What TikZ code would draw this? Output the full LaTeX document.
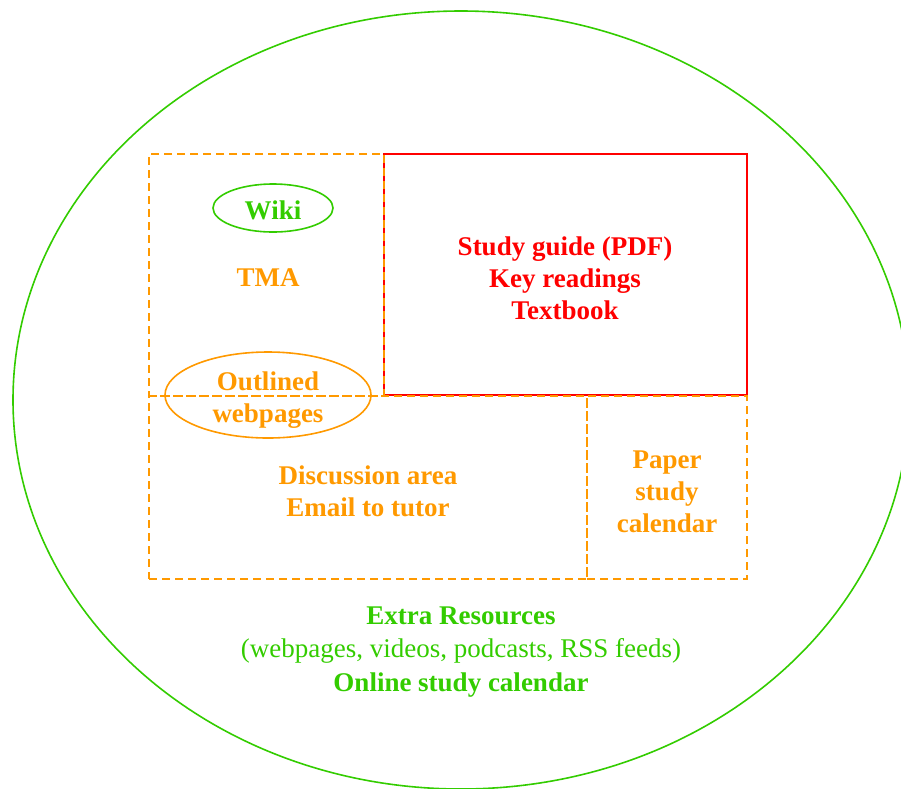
\documentclass[tikz,border=0pt]{standalone}
\usepackage{fontspec}
\setmainfont{Liberation Serif}
\usetikzlibrary{shapes.geometric}
\definecolor{mygreen}{RGB}{51,204,0}
\definecolor{myorange}{RGB}{255,153,0}
\definecolor{myred}{RGB}{255,0,0}
\newcommand{\lblsize}{\fontsize{27}{32}\selectfont}

\begin{document}
\begin{tikzpicture}[x=1pt, y=-1pt,
	dbox/.style={draw=myorange, line width=1.6pt, dash pattern=on 8pt off 5pt, inner sep=0pt},
	rbox/.style={draw=myred, line width=1.6pt, inner sep=0pt},
	lbl/.style={align=center, font=\lblsize\bfseries, inner sep=0pt},
	oval/.style={ellipse, line width=1.6pt, inner sep=0pt}]
	\useasboundingbox (0,0) rectangle (901,788);
	\node[oval, draw=mygreen, minimum width=896pt, minimum height=778pt] (outer) at (461,400) {};

	\node[rbox, minimum width=363pt, minimum height=241pt] (guide) at (565.5,274.5) {};
	\node[dbox, minimum width=235pt, minimum height=242pt] (tma) at (266.5,275) {};
	\node[dbox, minimum width=438pt, minimum height=183pt] (disc) at (368,487.5) {};
	\node[dbox, minimum width=160pt, minimum height=183pt] (paper) at (667,487.5) {};

	\node[oval, draw=mygreen, minimum width=120pt, minimum height=48pt] (wiki) at (273,208) {};
	\node[lbl, text=mygreen] (wikit) at (273,210) {Wiki};
	\node[lbl, text=myorange] (tmat) at (268,278) {TMA};
	\node[oval, draw=myorange, minimum width=206pt, minimum height=86pt] (web) at (268,395) {};
	\node[lbl, text=myorange] (webt) at (268,400) {Outlined\\webpages};

	\node[lbl, text=myred] (guidet) at (565,278) {Study guide (PDF)\\Key readings\\Textbook};
	\node[lbl, text=myorange] (disct) at (368,491) {Discussion area\\Email to tutor};
	\node[lbl, text=myorange] (papert) at (667,492) {Paper\\study\\calendar};
	\node[lbl, text=mygreen, font=\fontsize{27}{33.5}\selectfont] (extra) at (461,652)
		{\textbf{Extra Resources}\\(webpages, videos, podcasts, RSS feeds)\\\textbf{Online study calendar}};
\end{tikzpicture}
\end{document}
